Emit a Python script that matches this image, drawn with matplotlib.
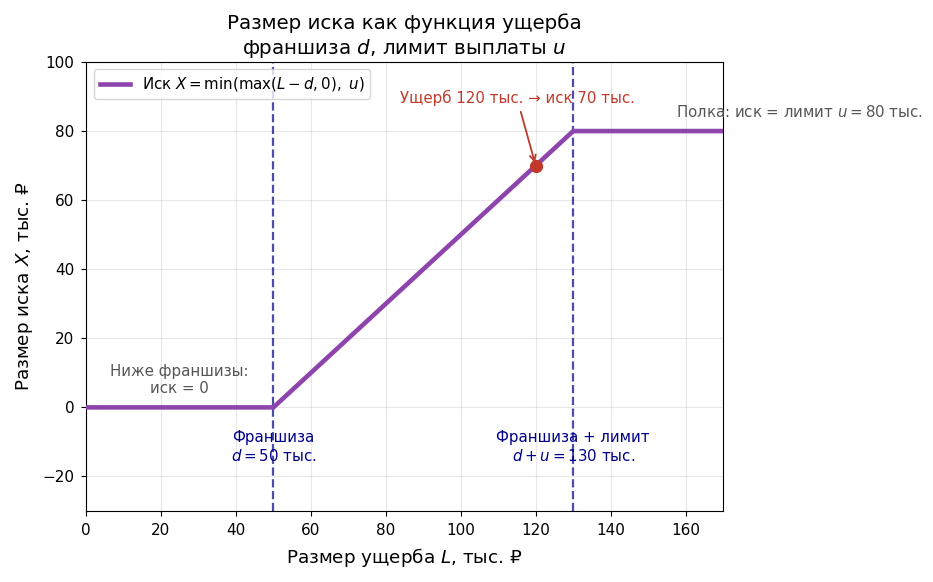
import numpy as np
import matplotlib.pyplot as plt

# параметры договора, тыс. руб.
deductible = 50
limit = 80
loss_example = 120
claim_example = 70

loss_grid = [0, 50, 130, 170]
claim_grid = [0, 0, 80, 80]

x_ticks = [0, 20, 40, 60, 80, 100, 120, 140, 160]
y_ticks = [-20, 0, 20, 40, 60, 80, 100]

purple = "#8E44AD"
red = "#C0392B"
navy = "#00008B"

fig = plt.figure(figsize=(9.33, 5.82), dpi=100)
ax = fig.add_axes([0.0922, 0.122, 0.6828, 0.7715])

ax.plot(loss_grid, claim_grid, color=purple, lw=3.3,
        label=r"Иск $X = \min(\max(L-d, 0),\ u)$", zorder=3)
ax.axvline(deductible, color=navy, ls="--", lw=1.6, alpha=0.7)
ax.axvline(deductible + limit, color=navy, ls="--", lw=1.6, alpha=0.7)

ax.plot(loss_example, claim_example, "o", color=red, ms=8.5, zorder=4)
ax.annotate("Ущерб 120 тыс. → иск 70 тыс.", xy=(loss_example, claim_example),
            xytext=(115, 89.5), ha="center", va="center", color=red, fontsize=10.8,
            arrowprops=dict(arrowstyle="->", color=red, lw=1.3))

ax.text(157.5, 85.5, r"Полка: иск = лимит $u = 80$ тыс.", color="#555555",
        fontsize=10.8, ha="left", va="center", clip_on=False)
ax.text(25, 8, "Ниже франшизы:\nиск = 0", color="#555555", fontsize=10.8,
        ha="center", va="center")
ax.text(deductible, -11.5, "Франшиза\n$d = 50$ тыс.", color=navy, fontsize=10.8,
        ha="center", va="center")
ax.text(deductible + limit, -11.5, "Франшиза + лимит\n$d + u = 130$ тыс.", color=navy,
        fontsize=10.8, ha="center", va="center")

ax.set_xlim(0, 170)
ax.set_ylim(-30, 100)
ax.set_xticks(x_ticks)
ax.set_yticks(y_ticks)
ax.tick_params(labelsize=11, length=3.9, pad=4.5)
ax.grid(True, alpha=0.3)
ax.set_xlabel("Размер ущерба $L$, тыс. ₽", fontsize=13.2, labelpad=6)
ax.set_ylabel("Размер иска $X$, тыс. ₽", fontsize=13.2, labelpad=5.5)
ax.set_title("Размер иска как функция ущерба\nфраншиза $d$, лимит выплаты $u$", fontsize=14.3)
ax.legend(loc="upper left", fontsize=10.8)

fig.savefig("out.png", dpi=100)
